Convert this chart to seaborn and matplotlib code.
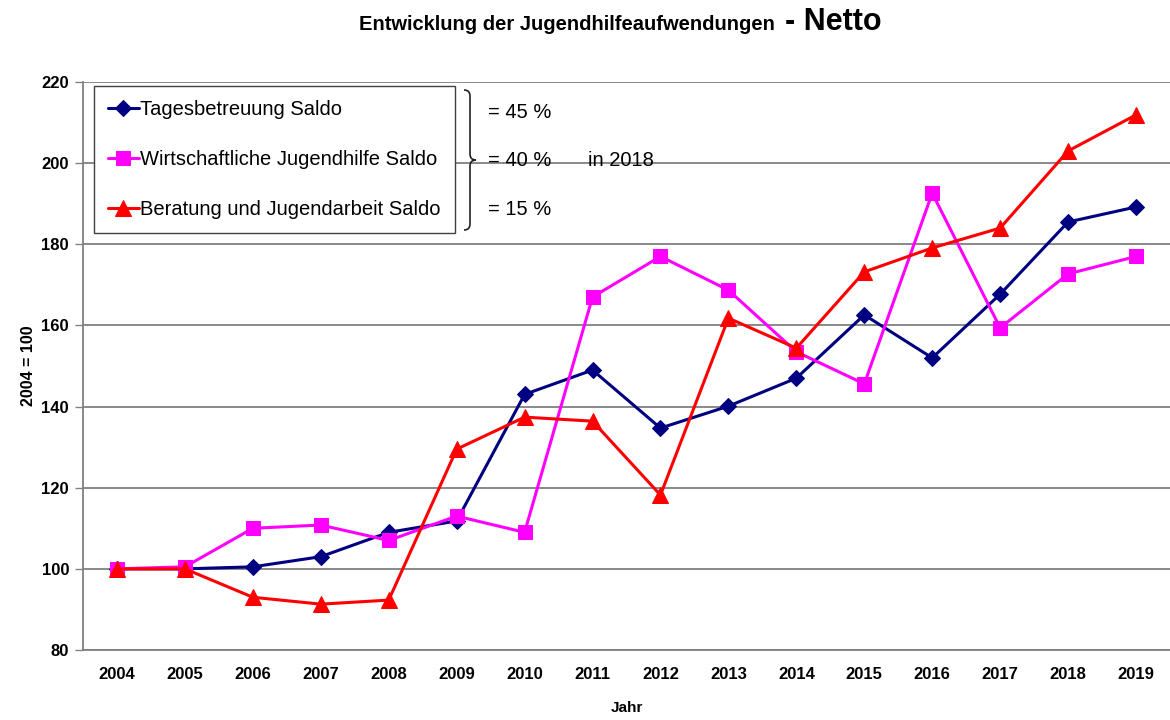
import numpy as np
import pandas as pd
import seaborn as sns
import matplotlib.pyplot as plt
from matplotlib.path import Path
from matplotlib.patches import PathPatch

# data (index 2004 = 100)
years = list(range(2004, 2020))
tagesbetreuung = [100, 100, 100.5, 103, 109, 111.8, 143, 149, 134.7, 140.1,
                  147, 162.6, 152, 167.7, 185.5, 189.2]
wirtschaftliche = [100, 100.5, 110, 110.8, 107, 113, 109, 167, 177, 168.7,
                   153.5, 145.6, 192.6, 159.4, 172.7, 177]
beratung = [100, 100, 93, 91.3, 92.3, 129.5, 137.4, 136.4, 118.2, 161.8,
            154.4, 173.2, 179.1, 184, 203, 211.9]
labels = ["Tagesbetreuung Saldo", "Wirtschaftliche Jugendhilfe Saldo",
          "Beratung und Jugendarbeit Saldo"]
anteile = ["= 45 %", "= 40 %", "= 15 %"]

sns.set_style("white")
plt.rcParams['font.family'] = ['Liberation Sans', 'DejaVu Sans']
plt.rcParams['text.color'] = 'black'
plt.rcParams['axes.labelcolor'] = 'black'
plt.rcParams['xtick.color'] = 'black'
plt.rcParams['ytick.color'] = 'black'

fig = plt.figure(figsize=(11.7, 7.2), dpi=100)
ax = fig.add_axes([83 / 1170, 1 - 650 / 720, 1 - 83 / 1170, (650 - 82) / 720])

styles = [("#000080", "D", 8.5), ("#FF00FF", "s", 10), ("#FF0000", "^", 11.5)]
for vals, lab, (col, mk, ms) in zip([tagesbetreuung, wirtschaftliche, beratung], labels, styles):
    df = pd.DataFrame({"Jahr": years, "Wert": vals})
    sns.lineplot(data=df, x="Jahr", y="Wert", ax=ax, color=col, marker=mk,
                 markersize=ms, markeredgecolor=col, linewidth=2.2, label=lab,
                 clip_on=False, zorder=3)

ax.set_xlim(2003.5, 2019.5)
ax.set_ylim(80, 220)
ax.set_yticks(np.arange(80, 221, 20))
ax.set_xticks(years)
ax.set_xticklabels([str(y) for y in years])
ax.set_xticks(np.arange(2003.5, 2020, 1), minor=True)
ax.tick_params(axis="x", which="major", length=0, pad=12, labelsize=12)
ax.tick_params(axis="x", which="minor", length=6, width=1, color="#808080", direction="out")
ax.tick_params(axis="y", length=6, width=1, color="#808080", direction="out", left=True,
               labelsize=12, pad=4)
for lbl in ax.get_xticklabels() + ax.get_yticklabels():
    lbl.set_fontweight("bold")

ax.grid(axis="y", color="#808080", linewidth=1.3)
ax.grid(axis="x", visible=False)
for side in ["top", "right"]:
    ax.spines[side].set_visible(False)
for side in ["left", "bottom"]:
    ax.spines[side].set_color("#808080")
    ax.spines[side].set_linewidth(1.3)

ax.set_xlabel("Jahr", fontsize=11, fontweight="bold", labelpad=14)
ax.set_ylabel("2004 = 100", fontsize=11.5, fontweight="bold", labelpad=4)

leg = ax.legend(loc="upper left", bbox_to_anchor=(0.01, 0.993), borderaxespad=0,
                fontsize=14.5, frameon=True, fancybox=False, edgecolor="#404040",
                framealpha=1, handlelength=1.5, handletextpad=0.05,
                labelspacing=1.52, borderpad=0.72)
leg.get_frame().set_linewidth(1.0)

# brace and shares
def fx(px):
    return px / 1170

def fy(py):
    return 1 - py / 720

verts = [(fx(464), fy(90)), (fx(470), fy(90)), (fx(470), fy(96)),
         (fx(470), fy(154)), (fx(470), fy(160)), (fx(476), fy(160)),
         (fx(470), fy(160)), (fx(470), fy(166)),
         (fx(470), fy(224)), (fx(470), fy(230)), (fx(464), fy(230))]
codes = [Path.MOVETO, Path.CURVE3, Path.CURVE3,
         Path.LINETO, Path.CURVE3, Path.CURVE3,
         Path.CURVE3, Path.CURVE3,
         Path.LINETO, Path.CURVE3, Path.CURVE3]
fig.add_artist(PathPatch(Path(verts, codes), transform=fig.transFigure,
                         fill=False, edgecolor="#222222", linewidth=1.2))
for txt, py in zip(anteile, [113, 161, 209]):
    fig.text(fx(488), fy(py), txt, fontsize=14.5, va="center", ha="left")
fig.text(fx(588), fy(161), "in 2018", fontsize=14.5, va="center", ha="left")

# title
fig.text(fx(775), fy(30), "Entwicklung der Jugendhilfeaufwendungen", fontsize=14.5,
         fontweight="bold", ha="right", va="baseline")
fig.text(fx(785), fy(30), "- Netto", fontsize=22, fontweight="bold",
         ha="left", va="baseline")

fig.savefig("out.png", dpi=100)
